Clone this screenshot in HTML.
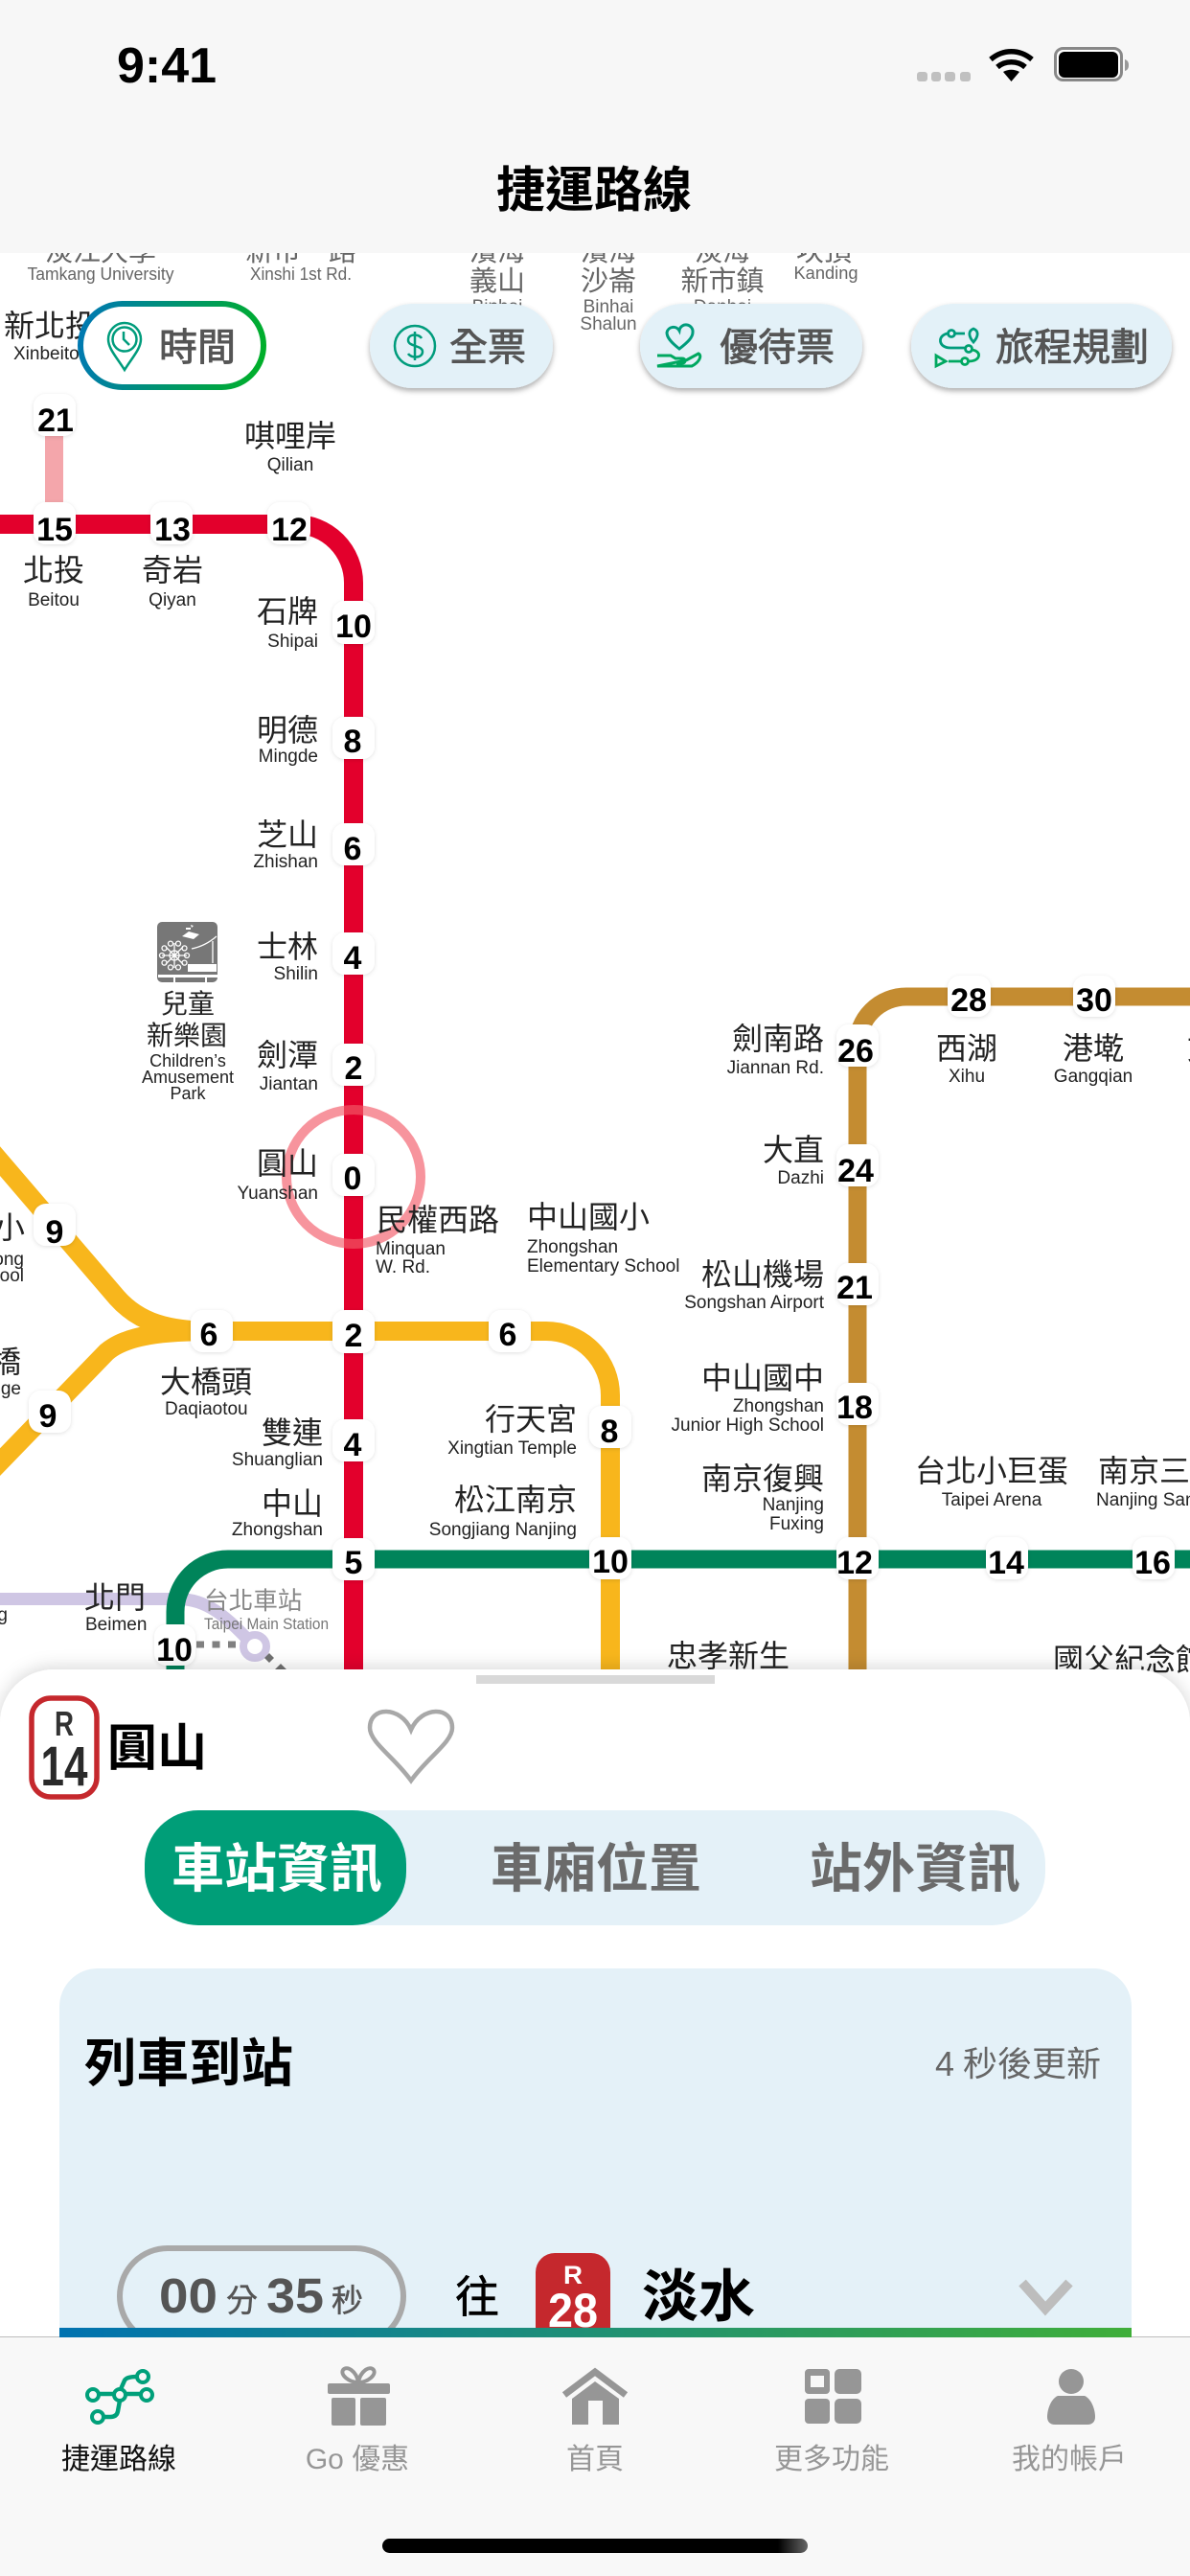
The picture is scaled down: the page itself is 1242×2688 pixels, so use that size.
<!DOCTYPE html>
<html lang="zh-Hant"><head><meta charset="utf-8"><title>捷運路線</title>
<style>
html,body{margin:0;padding:0;background:#fff;width:1242px;height:2688px;overflow:hidden}
svg{display:block}
text{font-family:"Liberation Sans","Noto Sans CJK TC",sans-serif}
.c{font-size:32px;fill:#222}
.e{font-size:19px;fill:#222}
.g{fill:#666}
.s{font-size:29px}
.t{font-size:18px}
.r{text-anchor:end}
.m{text-anchor:middle}
.n{font-size:34px;font-weight:700;fill:#000;text-anchor:middle}
.b{font-size:40px;fill:#555;stroke:#555;stroke-width:.9px}
.tab{font-size:55px;font-weight:700;fill:#6b6b6b}
.nav{font-size:30px;fill:#969696}
</style></head><body>
<svg width="1242" height="2688" viewBox="0 0 1242 2688" xmlns="http://www.w3.org/2000/svg">
<defs>
<filter id="ps" x="-30%" y="-30%" width="160%" height="160%"><feDropShadow dx="0" dy="1" stdDeviation="2" flood-color="#000" flood-opacity=".12"/></filter>
<filter id="bs" x="-10%" y="-20%" width="120%" height="150%"><feDropShadow dx="0" dy="3" stdDeviation="3" flood-color="#000" flood-opacity=".32"/></filter>
<filter id="ss" x="-5%" y="-8%" width="110%" height="116%"><feDropShadow dx="0" dy="-2" stdDeviation="9" flood-color="#000" flood-opacity=".16"/></filter>
<linearGradient id="gb" x1="0" y1="0" x2="1" y2="0"><stop offset="0" stop-color="#0072b0"/><stop offset="1" stop-color="#3fae39"/></linearGradient>
<linearGradient id="gt" gradientUnits="userSpaceOnUse" x1="82" y1="340" x2="277" y2="380"><stop offset="0" stop-color="#0078b4"/><stop offset="1" stop-color="#00b027"/></linearGradient>
<linearGradient id="hi" x1="0" y1="0" x2="1" y2="0"><stop offset="0" stop-color="#000"/><stop offset=".93" stop-color="#000"/><stop offset="1" stop-color="#666"/></linearGradient>
</defs>
<rect width="1242" height="2688" fill="#fff"/>

<!-- lines -->
<g fill="none">
<path d="M0,1668.500H186C218,1668.500 238,1690 258,1710" stroke="#cfc6e4" stroke-width="13"/>
<circle cx="266" cy="1718" r="12" stroke="#cfc6e4" stroke-width="8" fill="#fff"/>
<path d="M205,1716H248" stroke="#808080" stroke-width="7" stroke-dasharray="8 8.500"/>
<path d="M56.500,455V524" stroke="#f4a6ab" stroke-width="19"/>
<path d="M-10,1200L122,1354C145,1380 175,1389 225,1389H570A67,67 0 0 1 637,1456V1750" stroke="#f8b61c" stroke-width="20"/>
<path d="M-10,1536L111,1411C132,1393 170,1389 225,1389" stroke="#f8b61c" stroke-width="20"/>
<path d="M1250,1040H946A51,51 0 0 0 895,1091V1750" stroke="#c48c31" stroke-width="19"/>
<path d="M0,547H308A61,61 0 0 1 369,608V1750" stroke="#e3002c" stroke-width="20"/>
<path d="M1250,1627H238A55,55 0 0 0 183,1682V1750" stroke="#00845a" stroke-width="19"/>
<circle cx="369" cy="1228" r="70" stroke="#f25a68" stroke-opacity=".65" stroke-width="10"/>
</g>
<path d="M281,1725l5,5-5,5-5-5zM293,1736l6,6-6,6-6-6z" fill="#707070"/>

<!-- number pills -->
<g filter="url(#ps)" fill="#fff">
<rect x="35" y="411" width="44" height="44" rx="13"/><rect x="35" y="524" width="44" height="44" rx="13"/><rect x="157" y="524" width="44" height="44" rx="13"/><rect x="279" y="524" width="45" height="44" rx="13"/>
<rect x="347" y="627" width="44" height="45" rx="13"/><rect x="347" y="748" width="44" height="44" rx="13"/><rect x="347" y="859" width="44" height="44" rx="13"/><rect x="347" y="973" width="44" height="44" rx="13"/><rect x="347" y="1089" width="44" height="44" rx="13"/><rect x="347" y="1204" width="44" height="44" rx="13"/>
<rect x="347" y="1367" width="44" height="45" rx="13"/><rect x="347" y="1481" width="44" height="44" rx="13"/><rect x="347" y="1605" width="44" height="44" rx="13"/>
<rect x="35" y="1256" width="44" height="44" rx="13"/><rect x="30" y="1451" width="44" height="44" rx="13"/><rect x="199" y="1367" width="44" height="44" rx="13"/><rect x="510" y="1367" width="44" height="44" rx="13"/>
<rect x="161" y="1695" width="43" height="43" rx="13"/><rect x="615" y="1467" width="44" height="44" rx="13"/><rect x="615" y="1604" width="44" height="44" rx="13"/>
<rect x="873" y="1069" width="44" height="44" rx="13"/><rect x="873" y="1194" width="44" height="44" rx="13"/><rect x="873" y="1318" width="44" height="44" rx="13"/><rect x="873" y="1443" width="44" height="44" rx="13"/><rect x="873" y="1604" width="44" height="44" rx="13"/>
<rect x="989" y="1018" width="45" height="43" rx="13"/><rect x="1120" y="1018" width="44" height="43" rx="13"/><rect x="1029" y="1604" width="44" height="44" rx="13"/><rect x="1182" y="1604" width="44" height="44" rx="13"/>
</g>
<g>
<text class="n" x="58" y="450">21</text><text class="n" x="57" y="564">15</text><text class="n" x="180" y="564">13</text><text class="n" x="302" y="564">12</text>
<text class="n" x="369" y="665">10</text><text class="n" x="368" y="785">8</text><text class="n" x="368" y="897">6</text><text class="n" x="368" y="1011">4</text><text class="n" x="369" y="1126">2</text><text class="n" x="368" y="1241">0</text>
<text class="n" x="369" y="1405">2</text><text class="n" x="368" y="1519">4</text><text class="n" x="369" y="1642">5</text>
<text class="n" x="57" y="1297">9</text><text class="n" x="50" y="1489">9</text><text class="n" x="218" y="1404">6</text><text class="n" x="530" y="1404">6</text>
<text class="n" x="182" y="1733">10</text><text class="n" x="636" y="1505">8</text><text class="n" x="637" y="1641">10</text>
<text class="n" x="893" y="1108">26</text><text class="n" x="893" y="1233">24</text><text class="n" x="892" y="1355">21</text><text class="n" x="892" y="1480">18</text><text class="n" x="892" y="1642">12</text>
<text class="n" x="1011" y="1055">28</text><text class="n" x="1142" y="1055">30</text><text class="n" x="1050" y="1642">14</text><text class="n" x="1203" y="1642">16</text>
</g>

<!-- children's park icon -->
<rect x="164" y="962" width="63" height="63" rx="5" fill="#777"/>
<g fill="none" stroke="#fff" stroke-width="1.3"><circle cx="182" cy="997" r="5"/><path d="M169,997H195M182,984V1010M173,988L191,1006M191,988L173,1006"/>
<circle cx="195" cy="997" r="2.500"/><circle cx="192.500" cy="1004.600" r="2.500"/><circle cx="186" cy="1009.400" r="2.500"/><circle cx="178" cy="1009.400" r="2.500"/><circle cx="171.500" cy="1004.600" r="2.500"/><circle cx="169" cy="997" r="2.500"/><circle cx="171.500" cy="989.400" r="2.500"/><circle cx="178" cy="984.600" r="2.500"/><circle cx="186" cy="984.600" r="2.500"/><circle cx="192.500" cy="989.400" r="2.500"/>
<path d="M200,990C210,988 218,984 226,977M222,982V1005"/></g>
<path d="M190,977l7-5 11,3-6,5zM194,968h5v2h-5zM199,965l3,1-2,2z" fill="#fff"/><rect x="196" y="1006" width="30" height="8" fill="#fff"/><rect x="165" y="1017" width="62" height="3" fill="#fff"/><rect x="181" y="1019" width="2" height="6" fill="#fff"/><rect x="214" y="1019" width="2" height="6" fill="#fff"/>

<!-- labels top row -->
<g>
<text class="c s g m" x="105" y="272">淡江大學</text><text class="e t g m" x="105" y="292" textLength="153" lengthAdjust="spacingAndGlyphs">Tamkang University</text>
<text class="c s g m" x="314" y="272">新市一路</text><text class="e t g m" x="314" y="292" textLength="106" lengthAdjust="spacingAndGlyphs">Xinshi 1st Rd.</text>
<text class="c s g m" x="519" y="272">濱海</text><text class="c s g m" x="519" y="303">義山</text><text class="e g m" x="519" y="326">Binhai</text>
<text class="c s g m" x="635" y="272">濱海</text><text class="c s g m" x="635" y="303">沙崙</text><text class="e g m" x="635" y="326">Binhai</text><text class="e g m" x="635" y="344">Shalun</text>
<text class="c s g m" x="754" y="272">淡海</text><text class="c s g m" x="754" y="303">新市鎮</text><text class="e g m" x="754" y="326">Danhai</text>
<text class="c s g m" x="860" y="272">坎頂</text><text class="e t g m" x="862" y="291" textLength="67" lengthAdjust="spacingAndGlyphs">Kanding</text>
</g>
<text class="c" x="4" y="351">新北投</text><text class="e" x="14" y="375">Xinbeito</text>
<text class="c m" x="303" y="466">唭哩岸</text><text class="e m" x="303" y="491">Qilian</text>
<text class="c m" x="56" y="606">北投</text><text class="e m" x="56" y="632">Beitou</text>
<text class="c m" x="180" y="606">奇岩</text><text class="e m" x="180" y="632">Qiyan</text>
<text class="c r" x="332" y="649">石牌</text><text class="e r" x="332" y="675">Shipai</text>
<text class="c r" x="332" y="773">明德</text><text class="e r" x="332" y="795">Mingde</text>
<text class="c r" x="332" y="882">芝山</text><text class="e r" x="332" y="905">Zhishan</text>
<text class="c r" x="332" y="999">士林</text><text class="e r" x="332" y="1022">Shilin</text>
<text class="c r" x="332" y="1112">劍潭</text><text class="e r" x="332" y="1137">Jiantan</text>
<text class="c r" x="332" y="1225">圓山</text><text class="e r" x="332" y="1251">Yuanshan</text>
<text class="c m" x="196" y="1057" style="font-size:28px">兒童</text><text class="c m" x="195" y="1090" style="font-size:28px">新樂園</text>
<text class="e m" x="196" y="1113" style="font-size:18px">Children’s</text><text class="e m" x="196" y="1130" style="font-size:18px">Amusement</text><text class="e m" x="196" y="1147" style="font-size:18px">Park</text>
<text class="c" x="393" y="1284">民權西路</text><text class="e" x="392" y="1309">Minquan</text><text class="e" x="392" y="1328">W. Rd.</text>
<text class="c" x="550" y="1281">中山國小</text><text class="e" x="550" y="1307">Zhongshan</text><text class="e" x="550" y="1327">Elementary School</text>
<text class="c r" x="26" y="1292">三重國小</text><text class="e r" x="25" y="1320">Sanchong</text><text class="e r" x="25" y="1337">Elementary School</text>
<text class="c r" x="22" y="1432">台北橋</text><text class="e r" x="22" y="1455">Taipei Bridge</text>
<text class="c" x="167" y="1453">大橋頭</text><text class="e" x="172" y="1476">Daqiaotou</text>
<text class="c r" x="337" y="1506">雙連</text><text class="e r" x="337" y="1529">Shuanglian</text>
<text class="c r" x="337" y="1580">中山</text><text class="e r" x="337" y="1602">Zhongshan</text>
<text class="c r" x="602" y="1492">行天宮</text><text class="e r" x="602" y="1517">Xingtian Temple</text>
<text class="c r" x="602" y="1576">松江南京</text><text class="e r" x="602" y="1602">Songjiang Nanjing</text>
<text class="e r" x="8" y="1691">Sanchong</text>
<text class="c" x="88" y="1678">北門</text><text class="e" x="89" y="1701">Beimen</text>
<text class="c g" x="213" y="1679" style="font-size:25.6px;fill:#888">台北車站</text><text class="e" x="213" y="1700" style="font-size:17px;fill:#777" textLength="130" lengthAdjust="spacingAndGlyphs">Taipei Main Station</text>
<text class="c r" x="860" y="1095">劍南路</text><text class="e r" x="860" y="1120">Jiannan Rd.</text>
<text class="c r" x="860" y="1211">大直</text><text class="e r" x="860" y="1235">Dazhi</text>
<text class="c r" x="860" y="1341">松山機場</text><text class="e r" x="860" y="1365">Songshan Airport</text>
<text class="c r" x="860" y="1449">中山國中</text><text class="e r" x="860" y="1473">Zhongshan</text><text class="e r" x="860" y="1493">Junior High School</text>
<text class="c r" x="860" y="1554">南京復興</text><text class="e r" x="860" y="1576">Nanjing</text><text class="e r" x="860" y="1596">Fuxing</text>
<text class="c m" x="1035" y="1546">台北小巨蛋</text><text class="e m" x="1035" y="1571">Taipei Arena</text>
<text class="c" x="1146" y="1546">南京三民</text><text class="e" x="1144" y="1571">Nanjing Sanmin</text>
<text class="c m" x="1009" y="1105">西湖</text><text class="e m" x="1009" y="1129">Xihu</text>
<text class="c m" x="1141" y="1105">港墘</text><text class="e m" x="1141" y="1129">Gangqian</text>
<text class="c" x="1239" y="1105">文德</text>
<text class="c m" x="760" y="1739">忠孝新生</text><text class="c" x="1099" y="1743">國父紀念館</text>

<!-- header -->
<rect width="1242" height="264" fill="#f7f7f7"/>
<text x="122" y="86" style="font-size:52px;font-weight:700;fill:#000">9:41</text>
<g fill="#c0c0c0"><rect x="957" y="75" width="11" height="10" rx="3"/><rect x="972" y="75" width="10" height="10" rx="3"/><rect x="986" y="75" width="11" height="10" rx="3"/><rect x="1002" y="75" width="11" height="10" rx="3"/></g>
<g fill="none" stroke="#000" stroke-width="5.500"><path d="M1034,62C1047,51 1064,51 1077,62"/><path d="M1041,70C1049,63 1062,63 1070,70"/></g><path d="M1047,75C1052,72 1059,72 1064,75L1055.500,85z" fill="#000"/>
<rect x="1101.500" y="50.500" width="69" height="33" rx="8" fill="#fff" stroke="#888" stroke-width="3"/><rect x="1105" y="54" width="62" height="27" rx="6" fill="#000"/><path d="M1174,62c3,1 4,3 4,6s-1,5-4,6z" fill="#999"/>
<text class="m" x="620" y="216" style="font-size:51px;font-weight:700;fill:#000">捷運路線</text>

<!-- map buttons -->
<rect x="84" y="317" width="191" height="87" rx="43.500" fill="#fff" stroke="url(#gt)" stroke-width="6"/>
<g fill="none" stroke="#009c7c" stroke-width="2.500"><path d="M130,386C122,373 113,364 113,354A17,17 0 0 1 147,354C147,364 138,373 130,386z"/><circle cx="130" cy="354" r="12.500"/><path d="M129,346V354L135,360"/></g>
<text class="b" x="166" y="376">時間</text>
<g filter="url(#bs)" fill="#e3f1f8"><rect x="386" y="317" width="191" height="88" rx="44"/><rect x="668" y="317" width="232" height="88" rx="44"/><rect x="951" y="317" width="272" height="88" rx="44"/></g>
<g fill="none" stroke="#009c7c" stroke-width="2.500"><circle cx="433" cy="361" r="21"/><path d="M440,353C437,348 426,348 426,355C426,362 441,360 441,367C441,374 429,374 426,369M433,346V376"/></g>
<text class="b" x="469" y="376">全票</text>
<g fill="none" stroke-width="3"><path stroke="#009c7c" d="M709,364C700,357 696,352 696,347A7,7 0 0 1 709,345A7,7 0 0 1 723,347C723,352 718,357 709,364z"/><path stroke="#00a860" d="M686,371H700L705,374H712C716,374 716,379 712,379H706M716,376L729,369C733,371 730,378 722,382H686z"/></g>
<text class="b" x="751" y="376">優待票</text>
<g fill="none" stroke-width="2.800"><path stroke="#009c7c" d="M1016,357C1010,350 1011,345 1016,343C1021,345 1022,350 1016,357z"/><circle stroke="#009c7c" cx="993" cy="348" r="3.500"/><path stroke="#009c7c" d="M1007,348H997M989,348C978,350 979,363 992,363H1007"/><circle stroke="#00a070" cx="1011" cy="364" r="3.500"/><path stroke="#00a860" d="M1014,365C1025,366 1024,377 1011,377"/><circle stroke="#00a860" cx="1007" cy="377" r="3.500"/><path stroke="#00a860" d="M1003,377H990M977,371V382L987,377z"/></g>
<text class="b" x="1039" y="376">旅程規劃</text>

<!-- bottom sheet -->
<rect x="0" y="1742" width="1242" height="760" rx="56" fill="#fff" filter="url(#ss)"/>
<rect x="497" y="1748" width="249" height="9" fill="#d9d9d9"/>
<rect x="33" y="1772" width="68" height="103" rx="20" fill="#fff" stroke="#c5282d" stroke-width="5.500"/>
<text class="m" x="67" y="1811" style="font-size:36px;font-weight:700;fill:#333" textLength="20" lengthAdjust="spacingAndGlyphs">R</text>
<text class="m" x="67" y="1863" style="font-size:58px;font-weight:700;fill:#2a2a2a" textLength="49" lengthAdjust="spacingAndGlyphs">14</text>
<text x="112" y="1842" style="font-size:52px;font-weight:700;fill:#000">圓山</text>
<path d="M429,1858C412,1834 386,1818 386,1803C386,1780 418,1780 429,1805C440,1780 472,1780 472,1803C472,1818 446,1834 429,1858z" fill="#fff" stroke="#a8a8a8" stroke-width="4.500"/>
<rect x="151" y="1889" width="940" height="120" rx="56" fill="#e4f1f8"/>
<rect x="151" y="1889" width="273" height="120" rx="56" fill="#009e78"/>
<text class="tab" x="179" y="1969" style="fill:#fff">車站資訊</text>
<text class="tab" x="512" y="1969">車廂位置</text>
<text class="tab" x="845" y="1969">站外資訊</text>

<rect x="62" y="2054" width="1119" height="420" rx="40" fill="#e4f1f8"/>
<text x="88" y="2172" style="font-size:54.500px;font-weight:700;fill:#000">列車到站</text>
<text x="976" y="2166" style="font-size:36px;fill:#666">4</text><text x="1005" y="2166" style="font-size:36px;fill:#666">秒後更新</text>
<rect x="125" y="2346" width="296" height="100" rx="50" fill="#e4f1f8" stroke="#a9a9a9" stroke-width="6"/>
<text x="166" y="2413" style="font-size:51px;fill:#555;font-weight:700" textLength="61" lengthAdjust="spacingAndGlyphs">00</text><text x="236" y="2412" style="font-size:33px;fill:#555;stroke:#555;stroke-width:.5px">分</text><text x="278" y="2413" style="font-size:51px;fill:#555;font-weight:700" textLength="60" lengthAdjust="spacingAndGlyphs">35</text><text x="346" y="2412" style="font-size:33px;fill:#555;stroke:#555;stroke-width:.5px">秒</text>
<text x="475" y="2413" style="font-size:46px;fill:#000;stroke:#000;stroke-width:.6px">往</text>
<rect x="559" y="2351" width="78" height="100" rx="20" fill="#c5282d"/>
<text class="m" x="598" y="2383" style="font-size:27px;font-weight:700;fill:#fff" textLength="20" lengthAdjust="spacingAndGlyphs">R</text>
<text class="m" x="598" y="2428" style="font-size:50px;font-weight:700;fill:#fff" textLength="52" lengthAdjust="spacingAndGlyphs">28</text>
<text x="670" y="2417" style="font-size:59px;font-weight:700;fill:#000">淡水</text>
<path d="M1067,2382L1091,2409L1116,2382" fill="none" stroke="#bdbdbd" stroke-width="10"/>
<rect x="62" y="2429" width="1119" height="10" fill="url(#gb)"/>

<!-- tab bar -->
<rect x="0" y="2439" width="1242" height="249" fill="#f8f8f8"/>
<rect x="0" y="2438" width="62" height="1" fill="#bdbdbd"/><rect x="1181" y="2438" width="61" height="1" fill="#bdbdbd"/>
<g fill="none" stroke="#00a07a" stroke-width="4"><circle cx="97" cy="2499" r="6"/><circle cx="102" cy="2522" r="6"/><circle cx="125" cy="2499" r="6"/><circle cx="153" cy="2499" r="6"/><circle cx="149" cy="2480" r="6"/><path d="M103,2498H119M131,2498H147M125,2505L123,2516Q122,2522 115,2522H108M126,2493L130,2484Q132,2480 143,2480" stroke-width="4.500"/></g>
<g fill="#969696"><rect x="342" y="2487" width="65" height="11" rx="2"/><rect x="346" y="2502" width="25" height="29" rx="2"/><rect x="376" y="2502" width="27" height="29" rx="2"/></g>
<path d="M374,2486C364,2486 355,2478 358,2473C362,2468 372,2474 374,2486C376,2474 386,2468 390,2473C393,2478 384,2486 374,2486z" fill="none" stroke="#969696" stroke-width="4"/>
<path d="M589,2499L621,2475L653,2499" fill="none" stroke="#969696" stroke-width="7"/>
<path d="M597,2503L621,2485L646,2503V2530H629V2505H614V2530H597z" fill="#969696"/>
<g fill="#969696"><path fill-rule="evenodd" d="M844,2472H862a4,4 0 0 1 4,4V2494a4,4 0 0 1-4,4H844a4,4 0 0 1-4-4V2476a4,4 0 0 1 4-4zM846,2479V2491H860V2479z"/><rect x="871" y="2472" width="28" height="26" rx="5"/><rect x="840" y="2503" width="26" height="26" rx="4"/><rect x="871" y="2503" width="28" height="26" rx="5"/></g>
<ellipse cx="1118" cy="2485" rx="13" ry="13" fill="#969696"/><path d="M1104,2500H1132C1139,2503 1143,2514 1143,2522C1143,2527 1140,2530 1135,2530H1101C1096,2530 1093,2527 1093,2522C1093,2514 1097,2503 1104,2500z" fill="#969696"/>
<text class="m" x="124" y="2576" style="font-size:30px;fill:#111">捷運路線</text>
<text class="nav m" x="373" y="2576">Go 優惠</text>
<text class="nav m" x="621" y="2576">首頁</text>
<text class="nav m" x="868" y="2576">更多功能</text>
<text class="nav m" x="1116" y="2576">我的帳戶</text>
<rect x="399" y="2649" width="444" height="15" rx="7.500" fill="url(#hi)"/>
</svg>
</body></html>
